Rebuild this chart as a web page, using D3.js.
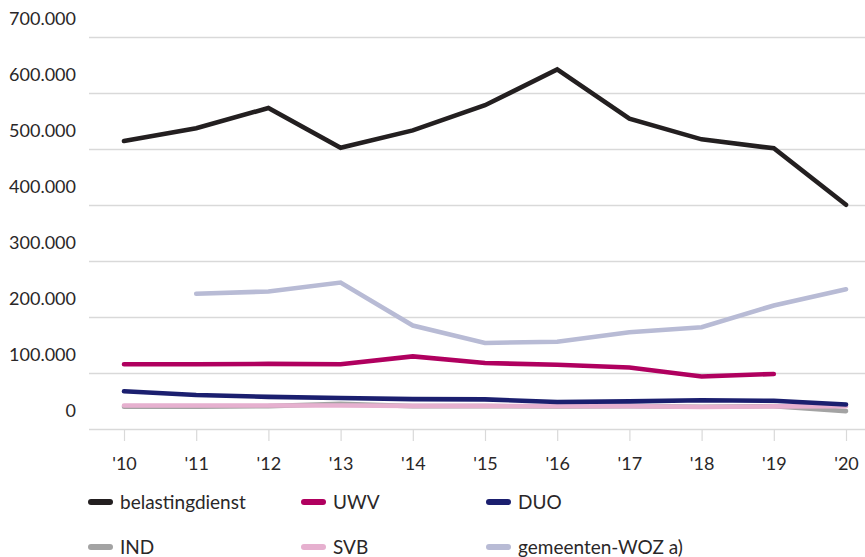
<!DOCTYPE html>
<html><head><meta charset="utf-8">
<script src="https://cdn.jsdelivr.net/npm/d3@7"></script>
<style>body{margin:0;background:#fff;}svg{display:block;font-family:Lato,"Open Sans",sans-serif;}</style>
</head><body>
<svg id="c" width="865" height="557"></svg>
<script>
const years = ["'10","'11","'12","'13","'14","'15","'16","'17","'18","'19","'20"];
const yTicks = [0,100000,200000,300000,400000,500000,600000,700000];
const belastingdienst = [514000,537000,573000,502000,533000,578000,642000,554000,517000,501000,400000];
const uwv = [115000,115000,115500,115000,129000,117000,114000,109000,93000,97500,null];
const duo = [66500,60000,56500,54500,52500,52000,47500,48500,50500,49500,43000];
const ind = [39000,39000,40000,44000,40000,40000,39500,40000,39000,40000,31000];
const svb = [41000,41000,41000,41000,40500,40500,40000,40000,38500,39500,40000];
const woz = [null,241000,245000,261000,184000,153000,155000,172000,181000,220000,249000];

const series = [
  {name:"belastingdienst", values:belastingdienst, color:"#231f20"},
  {name:"UWV", values:uwv, color:"#b0005f"},
  {name:"IND", values:ind, color:"#a3a3a3"},
  {name:"SVB", values:svb, color:"#e6b0cf"},
  {name:"DUO", values:duo, color:"#1b1f6f"},
  {name:"gemeenten-WOZ a)", values:woz, color:"#b8bbd5"}
];
const legendOrder = ["belastingdienst","UWV","DUO","IND","SVB","gemeenten-WOZ a)"];

const svg = d3.select("#c");
const x = d3.scalePoint().domain(years).range([124,846]);
const y = d3.scaleLinear().domain([0,700000]).range([428.5,37]);

// gridlines
svg.append("g").selectAll("line").data(yTicks).join("line")
  .attr("x1",89).attr("x2",865)
  .attr("y1",d=>Math.round(y(d))+0.5).attr("y2",d=>Math.round(y(d))+0.5)
  .attr("stroke","#d9d9d9").attr("stroke-width",1.5);

// y labels
const fmt = d=> d===0 ? "0" : d3.format(",")(d).replace(/,/g,".");
svg.append("g").selectAll("text").data(yTicks).join("text")
  .attr("x",76).attr("y",d=>y(d)-12)
  .attr("text-anchor","end").attr("font-size",18).attr("fill","#2a2728")
  .text(fmt);

// x axis
const xa = svg.append("g").attr("transform","translate(0,429)")
  .call(d3.axisBottom(x).tickSize(12).tickPadding(16));
xa.select(".domain").remove();
xa.selectAll(".tick line").attr("stroke","#d9d9d9").attr("stroke-width",1.2);
xa.selectAll(".tick text").attr("font-size",18).attr("fill","#2a2728").attr("font-family","Lato,sans-serif");

// lines
const line = d3.line().defined(d=>d!=null).x((d,i)=>x(years[i])).y(d=>y(d));
svg.append("g").selectAll("path").data(series).join("path")
  .attr("d",s=>line(s.values))
  .attr("fill","none").attr("stroke",s=>s.color).attr("stroke-width",4.6)
  .attr("stroke-linecap","round").attr("stroke-linejoin","miter");

// legend
const lx = [89,302,487];
const ly = [502,547];
const lg = svg.append("g").selectAll("g").data(legendOrder).join("g")
  .attr("transform",(d,i)=>`translate(${lx[i%3]},${ly[Math.floor(i/3)]})`);
lg.append("line").attr("x1",2).attr("x2",21).attr("y1",0).attr("y2",0)
  .attr("stroke",d=>series.find(s=>s.name===d).color).attr("stroke-width",6).attr("stroke-linecap","round");
lg.append("text").attr("x",31).attr("y",7).attr("font-size",19).attr("fill","#2a2728").text(d=>d);
</script>
</body></html>
